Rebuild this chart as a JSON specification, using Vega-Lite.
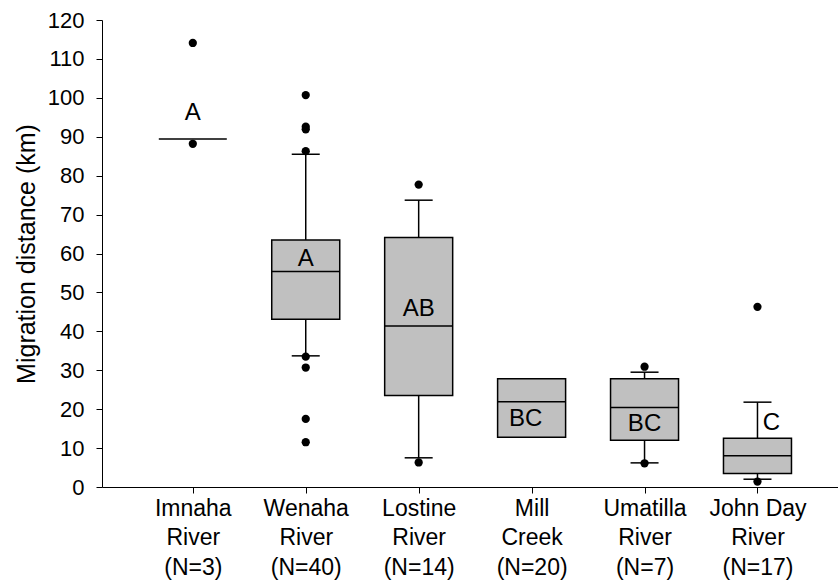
{
  "$schema": "https://vega.github.io/schema/vega-lite/v6.json",
  "autosize": {"type": "none"},
  "padding": {"left": 102, "top": 20, "right": 0, "bottom": 93},
  "width": 736,
  "height": 467,
  "background": "white",
  "config": {
    "view": {"stroke": "transparent", "strokeWidth": 0},
    "font": "Liberation Sans",
    "axis": {
      "labelFont": "Liberation Sans",
      "titleFont": "Liberation Sans",
      "labelColor": "black",
      "titleColor": "black",
      "domainColor": "black",
      "tickColor": "black",
      "grid": false,
      "titleFontWeight": "normal"
    },
    "axisY": {"tickCount": 12, "labelOverlap": false, "labelFontSize": 22, "labelPadding": 12, "tickSize": 6}
  },
  "datasets": {
    "boxes": [
      {"river": "Imnaha|River|(N=3)", "q1": null, "med": 89.4, "q3": null, "wlo": null, "whi": null, "letter": "A", "ly": 96.0},
      {"river": "Wenaha|River|(N=40)", "q1": 43.1, "med": 55.4, "q3": 63.5, "wlo": 33.7, "whi": 85.5, "letter": "A", "ly": 58.5},
      {"river": "Lostine|River|(N=14)", "q1": 23.5, "med": 41.4, "q3": 64.1, "wlo": 7.5, "whi": 73.7, "letter": "AB", "ly": 45.8},
      {"river": "Mill|Creek|(N=20)", "q1": 12.8, "med": 21.9, "q3": 27.8, "wlo": null, "whi": null, "letter": "BC", "ly": 17.6},
      {"river": "Umatilla|River|(N=7)", "q1": 12.0, "med": 20.4, "q3": 27.8, "wlo": 6.2, "whi": 29.5, "letter": "BC", "ly": 16.2},
      {"river": "John Day|River|(N=17)", "q1": 3.5, "med": 8.0, "q3": 12.5, "wlo": 2.0, "whi": 21.8, "letter": "C", "ly": 16.5}
    ],
    "outliers": [
      {"river": "Imnaha|River|(N=3)", "value": 114.1},
      {"river": "Imnaha|River|(N=3)", "value": 88.2},
      {"river": "Wenaha|River|(N=40)", "value": 100.7},
      {"river": "Wenaha|River|(N=40)", "value": 92.6},
      {"river": "Wenaha|River|(N=40)", "value": 91.9},
      {"river": "Wenaha|River|(N=40)", "value": 86.3},
      {"river": "Wenaha|River|(N=40)", "value": 33.5},
      {"river": "Wenaha|River|(N=40)", "value": 30.7},
      {"river": "Wenaha|River|(N=40)", "value": 17.5},
      {"river": "Wenaha|River|(N=40)", "value": 11.5},
      {"river": "Lostine|River|(N=14)", "value": 77.7},
      {"river": "Lostine|River|(N=14)", "value": 6.3},
      {"river": "Umatilla|River|(N=7)", "value": 30.9},
      {"river": "Umatilla|River|(N=7)", "value": 6.1},
      {"river": "John Day|River|(N=17)", "value": 46.3},
      {"river": "John Day|River|(N=17)", "value": 1.4}
    ]
  },
  "layer": [
    {
      "data": {"name": "boxes"},
      "transform": [{"filter": "isValid(datum.q1)"}],
      "mark": {"type": "bar", "size": 68, "fill": "#c0c0c0", "stroke": "black", "strokeWidth": 1.5},
      "encoding": {
        "x": {
          "field": "river",
          "type": "nominal",
          "sort": null,
          "scale": {
            "type": "point",
            "padding": 0.7585,
            "align": 0.53,
            "domain": ["Imnaha|River|(N=3)", "Wenaha|River|(N=40)", "Lostine|River|(N=14)", "Mill|Creek|(N=20)", "Umatilla|River|(N=7)", "John Day|River|(N=17)"]
          },
          "axis": {
            "title": null,
            "labelAngle": 0,
            "labelExpr": "split(datum.value, '|')",
            "labelFontSize": 23,
            "labelLineHeight": 29.5,
            "labelPadding": 4,
            "tickSize": 6,
            "labelBaseline": "top"
          }
        },
        "y": {
          "field": "q1",
          "type": "quantitative",
          "scale": {"domain": [0, 120], "nice": false, "zero": true},
          "axis": {
            "title": "Migration distance (km)",
            "titleFontSize": 25,
            "titlePadding": 8
          }
        },
        "y2": {"field": "q3"}
      }
    },
    {
      "data": {"name": "boxes"},
      "transform": [{"filter": "isValid(datum.whi)"}],
      "mark": {"type": "rule", "color": "black", "strokeWidth": 1.5},
      "encoding": {
        "x": {"field": "river", "type": "nominal"},
        "y": {"field": "q3", "type": "quantitative"},
        "y2": {"field": "whi"}
      }
    },
    {
      "data": {"name": "boxes"},
      "transform": [{"filter": "isValid(datum.wlo)"}],
      "mark": {"type": "rule", "color": "black", "strokeWidth": 1.5},
      "encoding": {
        "x": {"field": "river", "type": "nominal"},
        "y": {"field": "wlo", "type": "quantitative"},
        "y2": {"field": "q1"}
      }
    },
    {
      "data": {"name": "boxes"},
      "transform": [{"filter": "isValid(datum.whi)"}],
      "mark": {"type": "tick", "orient": "horizontal", "size": 28, "thickness": 1.5, "color": "black", "opacity": 1},
      "encoding": {
        "x": {"field": "river", "type": "nominal"},
        "y": {"field": "whi", "type": "quantitative"}
      }
    },
    {
      "data": {"name": "boxes"},
      "transform": [{"filter": "isValid(datum.wlo)"}],
      "mark": {"type": "tick", "orient": "horizontal", "size": 28, "thickness": 1.5, "color": "black", "opacity": 1},
      "encoding": {
        "x": {"field": "river", "type": "nominal"},
        "y": {"field": "wlo", "type": "quantitative"}
      }
    },
    {
      "data": {"name": "boxes"},
      "mark": {"type": "tick", "orient": "horizontal", "size": 68, "thickness": 1.5, "color": "black", "opacity": 1},
      "encoding": {
        "x": {"field": "river", "type": "nominal"},
        "y": {"field": "med", "type": "quantitative"}
      }
    },
    {
      "data": {"name": "outliers"},
      "mark": {"type": "circle", "size": 68, "color": "black", "opacity": 1},
      "encoding": {
        "x": {"field": "river", "type": "nominal"},
        "y": {"field": "value", "type": "quantitative"}
      }
    },
    {
      "data": {"name": "boxes"},
      "transform": [{"filter": "indexof(['Mill|Creek|(N=20)', 'John Day|River|(N=17)'], datum.river) < 0"}],
      "mark": {"type": "text", "fontSize": 24, "baseline": "middle", "align": "center", "color": "black", "font": "Liberation Sans"},
      "encoding": {
        "x": {"field": "river", "type": "nominal"},
        "y": {"field": "ly", "type": "quantitative"},
        "text": {"field": "letter"}
      }
    },
    {
      "data": {"name": "boxes"},
      "transform": [{"filter": "datum.river == 'Mill|Creek|(N=20)'"}],
      "mark": {"type": "text", "fontSize": 24, "baseline": "middle", "align": "center", "dx": -6, "color": "black", "font": "Liberation Sans"},
      "encoding": {
        "x": {"field": "river", "type": "nominal"},
        "y": {"field": "ly", "type": "quantitative"},
        "text": {"field": "letter"}
      }
    },
    {
      "data": {"name": "boxes"},
      "transform": [{"filter": "datum.river == 'John Day|River|(N=17)'"}],
      "mark": {"type": "text", "fontSize": 24, "baseline": "middle", "align": "center", "dx": 14, "color": "black", "font": "Liberation Sans"},
      "encoding": {
        "x": {"field": "river", "type": "nominal"},
        "y": {"field": "ly", "type": "quantitative"},
        "text": {"field": "letter"}
      }
    },
    {
      "mark": {"type": "rule", "color": "black", "strokeWidth": 1},
      "encoding": {"y": {"datum": 120, "type": "quantitative"}}
    }
  ]
}
